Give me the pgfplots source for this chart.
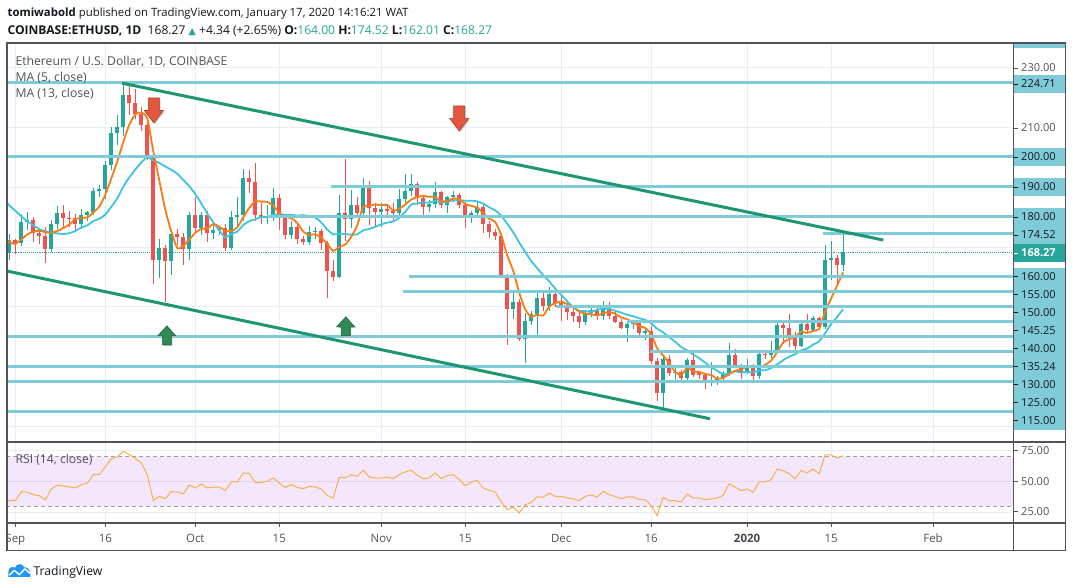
\documentclass[border=0pt]{standalone}
\usepackage{pgfplots}
\pgfplotsset{compat=1.18}
\usepackage{pgfplotstable}
\usepackage{fontspec}
\setmainfont{Open Sans}
\newfontfamily\dejavu{DejaVu Sans}

\definecolor{upc}{HTML}{26A69A}
\definecolor{dnc}{HTML}{EF5350}
\definecolor{lvl}{HTML}{80CBD8}
\definecolor{trend}{HTML}{1E9672}
\definecolor{maf}{HTML}{F77C15}
\definecolor{mas}{HTML}{3CC6DC}
\definecolor{rsil}{HTML}{F7B14A}
\definecolor{rsibg}{HTML}{F4E6FB}
\definecolor{rsimid}{HTML}{E2D6EF}
\definecolor{gridc}{HTML}{E8EEF3}
\definecolor{frame}{HTML}{50535E}
\definecolor{txt}{HTML}{50535E}
\definecolor{dark}{HTML}{131722}
\definecolor{tvblue}{HTML}{2196F3}
\definecolor{arrred}{HTML}{E4573D}
\definecolor{arrgreen}{HTML}{2F8A55}

% day index: 0 = 1 Sep 2019
\pgfplotstableread{
d o h l c
-1 168.0 174.3 165.5 172.2
0 172.2 172.8 167.5 171.4
1 171.4 181.0 170.2 178.3
2 178.3 181.5 175.5 179.0
3 179.0 180.0 171.5 174.6
4 174.6 176.0 171.0 173.5
5 173.5 176.5 164.5 169.2
6 169.2 179.0 168.3 177.7
7 177.7 183.5 176.0 181.3
8 181.3 184.0 176.0 179.8
9 179.8 182.0 176.5 179.5
10 179.5 181.0 175.0 177.5
11 177.5 182.5 176.0 180.5
12 180.5 182.0 178.5 181.5
13 181.5 189.5 180.5 188.7
14 188.7 190.5 186.5 189.2
15 189.2 198.5 186.0 197.3
16 197.3 210.0 195.5 207.9
17 207.9 214.0 204.0 210.1
18 210.1 224.7 207.0 220.7
19 220.7 223.5 214.0 218.0
20 218.0 222.5 212.5 214.2
21 214.2 216.5 208.5 210.8
22 210.8 212.0 199.0 200.3
23 200.3 202.0 157.5 165.7
24 165.7 172.5 159.5 169.6
25 169.6 170.8 151.5 165.4
26 165.4 175.5 160.5 174.3
27 174.3 176.0 170.5 173.2
28 173.2 174.5 164.0 169.2
29 169.2 181.5 165.5 180.6
30 180.6 186.5 175.0 176.2
31 176.2 181.5 174.0 180.6
32 180.6 182.0 171.5 174.6
33 174.6 177.5 172.5 175.8
34 175.8 177.0 174.0 176.3
35 176.3 177.5 168.5 169.8
36 169.8 182.0 169.0 180.1
37 180.1 186.5 177.0 180.6
38 180.6 196.0 178.5 192.9
39 192.9 195.5 188.0 191.7
40 191.7 198.0 178.5 180.7
41 180.7 184.5 177.5 179.6
42 179.6 184.0 177.5 180.3
43 180.3 189.5 178.5 186.2
44 186.2 187.5 175.5 180.3
45 180.3 181.0 172.5 174.1
46 174.1 178.5 172.5 176.8
47 176.8 178.0 171.0 172.6
48 172.6 173.5 170.5 171.6
49 171.6 177.0 170.5 174.9
50 174.9 176.5 172.5 175.2
51 175.2 176.0 169.0 171.2
52 171.2 172.0 152.8 162.1
53 162.1 165.5 158.6 160.1
54 160.1 187.3 159.5 181.4
55 181.4 199.2 172.0 179.3
56 179.3 189.0 176.4 184.0
57 184.0 186.5 180.0 181.4
58 181.4 192.9 180.5 190.7
59 190.7 192.1 177.3 182.9
60 182.9 184.5 177.0 181.8
61 181.8 184.6 176.8 182.5
62 182.5 184.0 179.5 182.1
63 182.1 184.5 178.4 181.2
64 181.2 189.2 180.5 185.9
65 185.9 194.3 184.5 188.7
66 188.7 194.3 187.0 190.9
67 190.9 191.5 184.0 186.2
68 186.2 186.5 180.1 183.4
69 183.4 185.5 181.5 184.3
70 184.3 191.6 183.0 188.2
71 188.2 188.8 183.0 184.0
72 184.0 187.0 181.4 186.5
73 186.5 188.5 185.0 187.3
74 187.3 188.0 183.0 184.0
75 184.0 185.0 176.4 179.5
76 179.5 182.0 178.0 181.4
77 181.4 185.0 180.5 183.4
78 183.4 184.0 174.8 177.7
79 177.7 178.5 173.1 175.1
80 175.1 176.0 172.3 173.8
81 173.8 174.5 159.5 160.1
82 160.1 161.0 137.3 149.4
83 149.4 155.0 146.0 151.6
84 151.6 152.5 138.5 139.3
85 139.3 148.0 131.2 145.4
86 145.4 148.5 144.0 147.7
87 147.7 155.0 140.5 152.9
88 152.9 155.0 148.5 150.3
89 150.3 156.5 148.5 154.2
90 154.2 155.5 150.0 151.2
91 151.2 153.5 145.4 150.4
92 150.4 151.5 145.7 148.4
93 148.4 150.0 145.0 147.0
94 147.0 148.0 142.9 145.1
95 145.1 149.0 144.0 148.1
96 148.1 150.5 146.5 148.8
97 148.8 149.5 145.5 147.1
98 147.1 151.8 145.5 150.3
99 150.3 151.5 146.0 147.0
100 147.0 148.5 144.5 145.1
101 145.1 146.0 142.5 142.9
102 142.9 145.5 138.4 144.3
103 144.3 145.5 142.5 144.7
104 144.7 145.5 140.5 141.2
105 141.2 143.0 139.0 142.1
106 142.1 143.5 131.0 131.8
107 131.8 133.0 118.5 121.2
108 121.2 134.0 116.2 132.7
109 132.7 133.8 127.0 128.0
110 128.0 129.5 125.5 128.4
111 128.4 129.0 125.5 126.4
112 126.4 133.0 125.5 132.3
113 132.3 134.9 126.5 127.2
114 127.8 128.5 126.0 127.3
115 127.3 128.0 122.5 124.6
116 124.6 131.5 123.5 125.3
117 125.3 127.0 124.0 126.2
118 126.2 128.5 125.5 127.9
119 127.9 137.9 127.0 134.0
120 134.0 135.8 129.5 130.1
121 130.1 131.0 126.0 128.0
122 128.0 132.5 127.5 130.4
123 130.4 131.0 125.5 126.8
124 126.8 135.0 126.0 134.2
125 134.2 135.5 132.5 133.8
126 133.8 138.7 133.0 135.3
127 135.3 144.5 134.5 144.0
128 144.0 145.0 137.5 142.9
129 142.9 147.7 136.6 140.1
130 140.1 141.5 134.6 137.1
131 137.1 145.0 136.5 144.3
132 144.3 147.6 141.5 142.3
133 142.3 147.0 141.5 146.2
134 146.2 146.5 142.5 143.2
135 143.2 170.7 142.5 165.7
136 165.7 172.1 158.8 166.4
137 166.4 167.2 157.9 164.0
138 164.0 174.52 162.01 168.27
}\candles

\pgfplotsset{
  tvpane/.style={scale only axis, anchor=south west, width=1006.5pt,
    xmin=-1.42, xmax=166.33, axis line style={draw=none}, major tick length=0pt,
    xtick={0,15,30,44,61,75,91,106,122,136,153}, xticklabels={}, yticklabels={},
    grid=major, grid style={gridc, line width=0.8pt}},
  wick/.style={draw=none, mark=none, forget plot,
    error bars/y dir=plus, error bars/y explicit, error bars/error mark=none,
    error bars/error bar style={draw=#1, line width=1pt, solid}},
  body/.style={draw=none, mark=none, forget plot,
    error bars/y dir=plus, error bars/y explicit, error bars/error mark=none,
    error bars/error bar style={draw=#1, line width=4.2pt, solid}},
  level/.style={lvl, line width=3pt, forget plot},
}

\begin{document}
\begin{tikzpicture}
\begin{scope}[x=1pt,y=1pt]
\fill[white] (0,0) rectangle (1073,588);
\path[use as bounding box] (0,0) rectangle (1073,588);
\end{scope}

% ---------------- price pane ----------------
\begin{axis}[tvpane, at={(6.5pt,146pt)}, height=399pt, ymin=105, ymax=238,
  ytick={110,130,...,230}]
\addplot[upc, densely dotted, line width=0.9pt] coordinates {(-5,168.27) (170,168.27)};
% up candles
\addplot[restrict expr to domain={\thisrow{c}-\thisrow{o}}{0:1000}, wick=upc]
  table[x=d, y=l, y error expr=\thisrow{h}-\thisrow{l}] {\candles};
\addplot[restrict expr to domain={\thisrow{c}-\thisrow{o}}{0:1000}, body=upc]
  table[x=d, y=o, y error expr=\thisrow{c}-\thisrow{o}] {\candles};
% down candles
\addplot[restrict expr to domain={\thisrow{c}-\thisrow{o}}{-1000:-0.0001}, wick=dnc]
  table[x=d, y=l, y error expr=\thisrow{h}-\thisrow{l}] {\candles};
\addplot[restrict expr to domain={\thisrow{c}-\thisrow{o}}{-1000:-0.0001}, body=dnc]
  table[x=d, y=c, y error expr=\thisrow{o}-\thisrow{c}] {\candles};
% MA 13
\addplot[mas, line width=1.8pt, smooth, tension=0.4] coordinates {
(-1.4,184.8) (-1,183.8) (0,182.0) (1,180.2) (2,178.5) (3,177.2) (4,175.9) (5,175.2) (6,174.8) (7,174.5) (8,174.3) (9,174.6) (10,175.3) (11,176.5) (12,177.2) (13,178.6) (14,179.4) (15,180.8) (16,183.4) (17,186.2) (18,190.1) (19,193.2) (20,195.8) (21,198.2) (22,199.8) (23,198.8) (24,198.0) (25,196.8) (26,195.7) (27,194.4) (28,192.3) (29,190.2) (30,187.6) (31,184.5) (32,181.1) (33,178.2) (34,175.5) (35,173.2) (36,174.3) (37,175.1) (38,177.3) (39,178.6) (40,179.2) (41,180.0) (42,179.9) (43,180.7) (44,180.7) (45,180.7) (46,180.7) (47,180.4) (48,180.6) (49,180.2) (50,179.8) (51,178.1) (52,175.8) (53,174.2) (54,174.4) (55,174.3) (56,174.1) (57,174.2) (58,175.5) (59,176.0) (60,176.7) (61,177.5) (62,178.1) (63,178.5) (64,179.7) (65,181.7) (66,184.1) (67,184.5) (68,184.8) (69,184.8) (70,185.3) (71,184.8) (72,185.1) (73,185.5) (74,185.6) (75,185.4) (76,185.4) (77,185.2) (78,184.4) (79,183.2) (80,182.2) (81,180.4) (82,177.7) (83,174.9) (84,171.5) (85,168.3) (86,165.3) (87,162.9) (88,160.6) (89,158.5) (90,156.1) (91,154.0) (92,151.9) (93,149.8) (94,148.7) (95,148.6) (96,148.4) (97,149.0) (98,149.4) (99,149.3) (100,148.7) (101,148.1) (102,147.4) (103,146.9) (104,146.2) (105,145.7) (106,144.5) (107,142.7) (108,141.5) (109,139.9) (110,138.4) (111,136.6) (112,135.5) (113,134.1) (114,132.9) (115,131.4) (116,129.9) (117,128.7) (118,127.6) (119,127.8) (120,128.5) (121,128.1) (122,128.3) (123,128.2) (124,128.8) (125,128.9) (126,129.6) (127,130.8) (128,132.2) (129,133.4) (130,134.2) (131,135.5) (132,136.1) (133,137.4) (134,138.5) (135,141.2) (136,144.3) (137,146.6) (138,149.2)};
% MA 5
\addplot[maf, line width=1.8pt, smooth, tension=0.4] coordinates {
(-1.4,171.9) (-1,171.6) (0,171.0) (1,172.5) (2,174.2) (3,175.1) (4,175.4) (5,174.9) (6,174.8) (7,175.3) (8,176.3) (9,177.5) (10,179.2) (11,179.7) (12,179.8) (13,181.5) (14,183.5) (15,187.4) (16,192.9) (17,198.6) (18,205.0) (19,210.8) (20,214.2) (21,214.8) (22,212.8) (23,201.8) (24,192.1) (25,182.4) (26,175.1) (27,169.6) (28,170.3) (29,172.5) (30,174.7) (31,176.0) (32,176.2) (33,177.6) (34,176.7) (35,175.4) (36,175.3) (37,176.5) (38,179.9) (39,183.0) (40,185.2) (41,185.1) (42,185.0) (43,183.7) (44,181.4) (45,180.1) (46,179.5) (47,178.0) (48,175.1) (49,174.0) (50,174.2) (51,173.1) (52,171.0) (53,168.7) (54,170.0) (55,170.8) (56,173.4) (57,177.2) (58,183.4) (59,183.7) (60,184.2) (61,183.9) (62,184.0) (63,182.1) (64,182.7) (65,184.1) (66,185.8) (67,186.6) (68,187.0) (69,186.7) (70,186.6) (71,185.2) (72,185.3) (73,186.1) (74,186.0) (75,184.3) (76,183.7) (77,183.1) (78,181.2) (79,179.4) (80,178.3) (81,174.0) (82,167.2) (83,162.0) (84,154.8) (85,149.2) (86,146.7) (87,147.4) (88,147.1) (89,150.1) (90,151.3) (91,151.8) (92,150.9) (93,150.2) (94,148.4) (95,147.8) (96,147.5) (97,147.2) (98,147.9) (99,148.3) (100,147.7) (101,146.5) (102,145.9) (103,144.8) (104,143.6) (105,143.0) (106,140.8) (107,136.2) (108,133.8) (109,131.2) (110,128.4) (111,127.3) (112,129.6) (113,128.5) (114,128.3) (115,127.6) (116,127.3) (117,126.1) (118,126.3) (119,127.6) (120,128.7) (121,129.2) (122,130.1) (123,129.9) (124,129.9) (125,130.7) (126,132.1) (127,134.9) (128,138.1) (129,139.3) (130,139.9) (131,141.7) (132,141.3) (133,142.0) (134,142.6) (135,148.3) (136,152.8) (137,157.1) (138,161.5)};
% horizontal levels
\addplot[level] coordinates {(-5,224.71) (170,224.71)};
\addplot[level] coordinates {(-5,200) (170,200)};
\addplot[level] coordinates {(52.7,190) (170,190)};
\addplot[level] coordinates {(42,180) (170,180)};
\addplot[level] coordinates {(134.7,174.52) (170,174.52)};
\addplot[level] coordinates {(65.7,160) (170,160)};
\addplot[level] coordinates {(64.7,155) (170,155)};
\addplot[level] coordinates {(90.2,150) (170,150)};
\addplot[level] coordinates {(102,145.25) (170,145.25)};
\addplot[level] coordinates {(-5,140) (170,140)};
\addplot[level] coordinates {(105.8,135.24) (170,135.24)};
\addplot[level] coordinates {(-5,130) (170,130)};
\addplot[level] coordinates {(-5,125) (170,125)};
\addplot[level] coordinates {(-5,115) (170,115)};
% channel
\addplot[trend, line width=3pt] coordinates {(17.8,224.6) (144.7,172.3)};
\addplot[trend, line width=3pt] coordinates {(-1.5,162.0) (115.8,112.7)};
\end{axis}

% ---------------- RSI pane ----------------
\begin{axis}[tvpane, at={(6.5pt,64.7pt)}, height=81pt, ymin=16.1, ymax=81.8,
  ytick={25,50,75}]
\addplot[draw=none, fill=rsibg, forget plot] coordinates {(-5,30) (170,30) (170,70) (-5,70)} \closedcycle;
\addplot[rsimid, line width=0.8pt] coordinates {(-5,50) (170,50)};
\addplot[black!38, dash pattern=on 4pt off 3pt, line width=0.8pt] coordinates {(-5,70) (170,70)};
\addplot[black!38, dash pattern=on 4pt off 3pt, line width=0.8pt] coordinates {(-5,30) (170,30)};
\addplot[rsil, line width=1pt] coordinates {
(-1.4,34.2) (-1,34.2) (0,34.5) (1,41.6) (2,41.3) (3,39.1) (4,38.3) (5,35.1) (6,43.8) (7,47.0) (8,46.2) (9,45.5) (10,44.6) (11,47.3) (12,48.6) (13,55.4) (14,55.6) (15,61.7) (16,68.2) (17,69.8) (18,74.5) (19,71.7) (20,68.5) (21,64.9) (22,55.4) (23,34.5) (24,37.8) (25,35.9) (26,41.8) (27,41.3) (28,39.9) (29,47.0) (30,44.6) (31,47.8) (32,44.6) (33,45.4) (34,45.4) (35,42.4) (36,49.5) (37,49.5) (38,56.8) (39,56.3) (40,49.2) (41,49.2) (42,50.0) (43,52.7) (44,48.6) (45,45.1) (46,47.3) (47,45.1) (48,44.0) (49,45.9) (50,45.4) (51,43.8) (52,38.6) (53,36.4) (54,53.5) (55,52.7) (56,55.4) (57,54.1) (58,59.0) (59,53.5) (60,52.7) (61,52.7) (62,53.5) (63,52.2) (64,55.4) (65,57.6) (66,59.0) (67,54.9) (68,52.2) (69,52.7) (70,56.8) (71,52.2) (72,54.6) (73,55.4) (74,51.4) (75,46.5) (76,49.5) (77,50.8) (78,44.6) (79,42.7) (80,41.3) (81,33.7) (82,26.9) (83,29.1) (84,24.2) (85,31.0) (86,32.9) (87,37.5) (88,37.0) (89,40.5) (90,37.8) (91,37.8) (92,36.5) (93,35.7) (94,34.3) (95,37.8) (96,38.9) (97,37.3) (98,41.9) (99,39.2) (100,37.8) (101,35.9) (102,37.3) (103,37.3) (104,35.1) (105,35.1) (106,30.3) (107,22.2) (108,37.0) (109,34.3) (110,34.3) (111,33.2) (112,39.7) (113,36.5) (114,36.5) (115,35.1) (116,35.7) (117,36.5) (118,38.6) (119,48.1) (120,45.4) (121,42.4) (122,43.8) (123,41.1) (124,49.5) (125,49.5) (126,51.4) (127,60.0) (128,58.6) (129,56.2) (130,52.2) (131,58.9) (132,56.8) (133,60.0) (134,56.2) (135,71.4) (136,71.4) (137,68.9) (138,70.8)};
\end{axis}

% ---------------- decorations in screen coordinates (y downwards) ----------------
\begin{scope}[x=1pt, y=1pt, shift={(0pt,588pt)}, yscale=-1]
% signal arrows
\foreach \cx/\yt/\ym/\yb in {153.5/98/110.5/123, 459/106/118.5/131}{
  \fill[black!22] (\cx-4.5,\yt+1.2) -- (\cx+6.5,\yt+1.2) -- (\cx+6.5,\ym+1.2) -- (\cx+10.5,\ym+1.2) -- (\cx+1,\yb+1.2) -- (\cx-8.5,\ym+1.2) -- (\cx-4.5,\ym+1.2) -- cycle;
  \filldraw[fill=arrred, draw=arrred!75!black, line width=0.6pt] (\cx-5.5,\yt) -- (\cx+5.5,\yt) -- (\cx+5.5,\ym) -- (\cx+9.5,\ym) -- (\cx,\yb) -- (\cx-9.5,\ym) -- (\cx-5.5,\ym) -- cycle;
}
\foreach \cx/\yt/\ym/\yb in {166.5/326/336/345, 345.5/317/327/336}{
  \fill[black!22] (\cx+1,\yt+1.2) -- (\cx+10,\ym+1.2) -- (\cx+5.5,\ym+1.2) -- (\cx+5.5,\yb+1.2) -- (\cx-3.5,\yb+1.2) -- (\cx-3.5,\ym+1.2) -- (\cx-8,\ym+1.2) -- cycle;
  \filldraw[fill=arrgreen, draw=arrgreen!70!black, line width=0.6pt] (\cx,\yt) -- (\cx+9,\ym) -- (\cx+4.5,\ym) -- (\cx+4.5,\yb) -- (\cx-4.5,\yb) -- (\cx-4.5,\ym) -- (\cx-9,\ym) -- cycle;
}
% legends inside panes
\node[anchor=base west, text=txt, inner sep=0pt, font=\fontsize{12.2}{14}\selectfont] at (15,65.5) {Ethereum / U.S. Dollar, 1D, COINBASE};
\node[anchor=base west, text=txt, inner sep=0pt, font=\fontsize{12.2}{14}\selectfont] at (15,81.5) {MA (5, close)};
\node[anchor=base west, text=txt, inner sep=0pt, font=\fontsize{12.2}{14}\selectfont] at (15,98) {MA (13, close)};
\node[anchor=base west, text=txt, inner sep=0pt, font=\fontsize{12.2}{14}\selectfont] at (15,464) {RSI (14, close)};
% price scale labels
\fill[lvl] (1013.5,43) rectangle (1065.5,48);
\foreach \yy/\lab in {84/224.71, 157/200.00, 187/190.00, 217/180.00, 235/174.52, 277/160.00, 295/155.00, 313/150.00, 331/145.25, 349/140.00, 367/135.24, 385/130.00, 403/125.00, 421/115.00}{
  \fill[lvl] (1013.5,\yy-9) rectangle (1065.5,\yy+9);
}
\foreach \yy/\lab in {84/224.71, 157/200.00, 187/190.00, 217/180.00, 235/174.52, 277/160.00, 295/155.00, 313/150.00, 331/145.25, 349/140.00, 367/135.24, 385/130.00, 403/125.00, 421/115.00}{
  \draw[dark, line width=0.8pt] (1013.5,\yy) -- (1017.5,\yy);
  \node[anchor=west, text=dark, font=\fontsize{11}{12}\selectfont, inner sep=0pt] at (1021,\yy) {\lab};
}
\foreach \yy/\lab in {68/230.00, 128/210.00}{
  \draw[txt, line width=0.8pt] (1013.5,\yy) -- (1017.5,\yy);
  \node[anchor=west, text=txt, font=\fontsize{11}{12}\selectfont, inner sep=0pt] at (1021,\yy) {\lab};
}
\fill[upc] (1013.5,244) rectangle (1065.5,262);
\draw[white, line width=0.8pt] (1013.5,253) -- (1017.5,253);
\node[anchor=west, text=white, font=\bfseries\fontsize{11}{12}\selectfont, inner sep=0pt] at (1021,253) {168.27};
% RSI scale labels
\foreach \yy/\lab in {451/75.00, 482/50.00, 512/25.00}{
  \draw[txt, line width=0.8pt] (1013.5,\yy) -- (1017.5,\yy);
  \node[anchor=west, text=txt, font=\fontsize{11}{12}\selectfont, inner sep=0pt] at (1021,\yy) {\lab};
}
% time axis
\begin{scope}
\clip (6.5,523) rectangle (1013.5,551);
\foreach \xx/\lab in {15/Sep, 105/16, 195/Oct, 279/15, 381/Nov, 465/15, 561/Dec, 651/16, 831/15, 933/Feb}{
  \draw[txt, line width=0.8pt] (\xx,523.3) -- (\xx,527.5);
  \node[anchor=base, text=txt, font=\fontsize{11.5}{13}\selectfont] at (\xx,543) {\lab};
}
\draw[txt, line width=0.8pt] (747,523.3) -- (747,527.5);
\node[anchor=base, text=txt!85!black, font=\bfseries\fontsize{11.5}{13}\selectfont] at (747,543) {2020};
\end{scope}
% frames
\draw[frame, line width=1.3pt] (6.5,43) rectangle (1065.5,551);
\draw[frame, line width=1.3pt] (1013.5,43) -- (1013.5,551);
\draw[frame, line width=1.3pt] (6.5,442.3) -- (1065.5,442.3);
\draw[frame, line width=1.3pt] (6.5,523.3) -- (1065.5,523.3);
% header
\node[anchor=base west, text=dark, font=\fontsize{11.4}{14}\selectfont, inner sep=0pt] at (7,17)
  {\textbf{tomiwabold} published on TradingView.com, January 17, 2020 14:16:21 WAT};
\node[anchor=base west, text=dark, font=\fontsize{12.1}{14}\selectfont, inner sep=0pt] at (7,34.5)
  {\textbf{COINBASE:ETHUSD, 1D}\ \ 168.27 {\color{upc}\dejavu\fontsize{9.5}{12}\selectfont ▲} +4.34 (+2.65\%)
   \textbf{O:}{\color{upc}164.00} \textbf{H:}{\color{upc}174.52} \textbf{L:}{\color{upc}162.01} \textbf{C:}{\color{upc}168.27}};
% logo
\fill[tvblue] (8,577) -- (8,572) .. controls (8,568) and (12,566) .. (14.5,568) .. controls (16,563.5) and (22,563) .. (24,567.5) .. controls (28,567) and (30.5,571) .. (30,577) -- cycle;
\draw[white, line width=1.4pt, line join=round] (9,575.5) -- (14,570.5) -- (19,575) -- (24.5,569) -- (29.5,573.5);
\node[anchor=base west, text=dark, font=\fontsize{12.2}{14}\selectfont, inner sep=0pt] at (33,576) {TradingView};
\end{scope}
\end{tikzpicture}
\end{document}
